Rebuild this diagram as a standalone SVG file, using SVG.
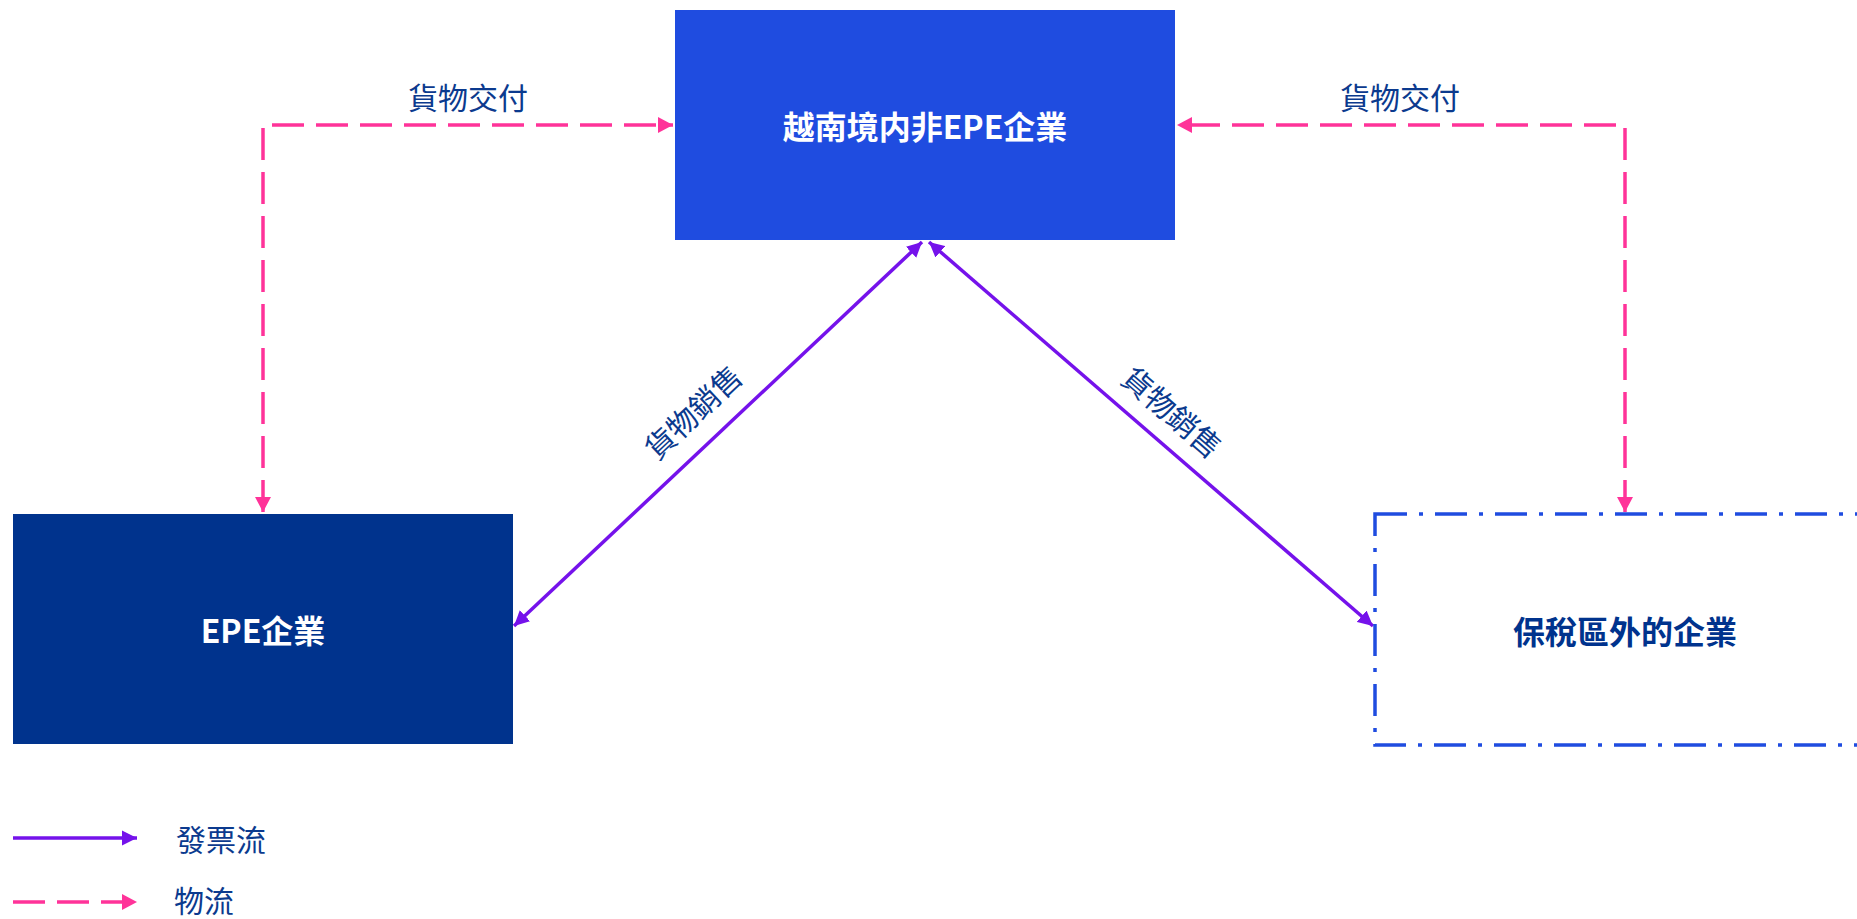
<svg xmlns="http://www.w3.org/2000/svg" width="1857" height="919" viewBox="0 0 1857 919">
<style>
.lbl{font-family:"Noto Sans CJK TC","Noto Sans",sans-serif;font-size:30px;fill:#0b3a8e;}
.node{font-family:"Noto Sans CJK TC","Noto Sans",sans-serif;font-size:32px;font-weight:bold;}
.inv{fill:none;stroke:#7512eb;stroke-width:3.5;}
.log{fill:none;stroke:#ff3399;stroke-width:3.5;stroke-dasharray:32 12;}
</style>
<defs>
<marker id="ap" markerUnits="userSpaceOnUse" markerWidth="16" markerHeight="16" refX="15" refY="8" orient="auto-start-reverse" viewBox="0 0 16 16">
<path d="M0,0 L15,8 L0,16 z" fill="#ff3399"/>
</marker>
<marker id="av" markerUnits="userSpaceOnUse" markerWidth="16" markerHeight="16" refX="15" refY="8" orient="auto-start-reverse" viewBox="0 0 16 16">
<path d="M0,0.5 L15,8 L0,15.5 z" fill="#7512eb"/>
</marker>
</defs>
<rect width="1857" height="919" fill="#ffffff"/>
<g id="connectors">
<path class="log" d="M263,512 L263,125 L673,125" marker-start="url(#ap)" marker-end="url(#ap)"/>
<path class="log" d="M1625,512 L1625,125 L1177,125" marker-start="url(#ap)" marker-end="url(#ap)"/>
<path class="inv" d="M514,626 L922,242" marker-start="url(#av)" marker-end="url(#av)"/>
<path class="inv" d="M1373,626 L929,242" marker-start="url(#av)" marker-end="url(#av)"/>
<text class="lbl" x="468" y="96" text-anchor="middle" dominant-baseline="central">貨物交付</text>
<text class="lbl" x="1400" y="96" text-anchor="middle" dominant-baseline="central">貨物交付</text>
<text class="lbl" x="692" y="411" text-anchor="middle" dominant-baseline="central" transform="rotate(-43.2 692 411)">貨物銷售</text>
<text class="lbl" x="1173" y="411" text-anchor="middle" dominant-baseline="central" transform="rotate(40.9 1173 411)">貨物銷售</text>
</g>
<g id="node-top">
<rect x="675" y="10" width="500" height="230" fill="#1f4ce0"/>
<text class="node" x="925" y="125" text-anchor="middle" dominant-baseline="central" fill="#ffffff">越南境内非EPE企業</text>
</g>
<g id="node-epe">
<rect x="13" y="514" width="500" height="230" fill="#00338d"/>
<text class="node" x="263" y="629" text-anchor="middle" dominant-baseline="central" fill="#ffffff">EPE企業</text>
</g>
<g id="node-outside">
<rect x="1375" y="514" width="500" height="231" fill="none" stroke="#1f4ce0" stroke-width="3.5" stroke-dasharray="32 12 4 12"/>
<text class="node" x="1625" y="630" text-anchor="middle" dominant-baseline="central" fill="#00338d">保稅區外的企業</text>
</g>
<g id="legend">
<line class="inv" x1="13" y1="838" x2="137" y2="838" marker-end="url(#av)"/>
<text class="lbl" x="176" y="838" dominant-baseline="central">發票流</text>
<line class="log" x1="13" y1="902" x2="137" y2="902" marker-end="url(#ap)"/>
<text class="lbl" x="174" y="899" dominant-baseline="central">物流</text>
</g>
</svg>
